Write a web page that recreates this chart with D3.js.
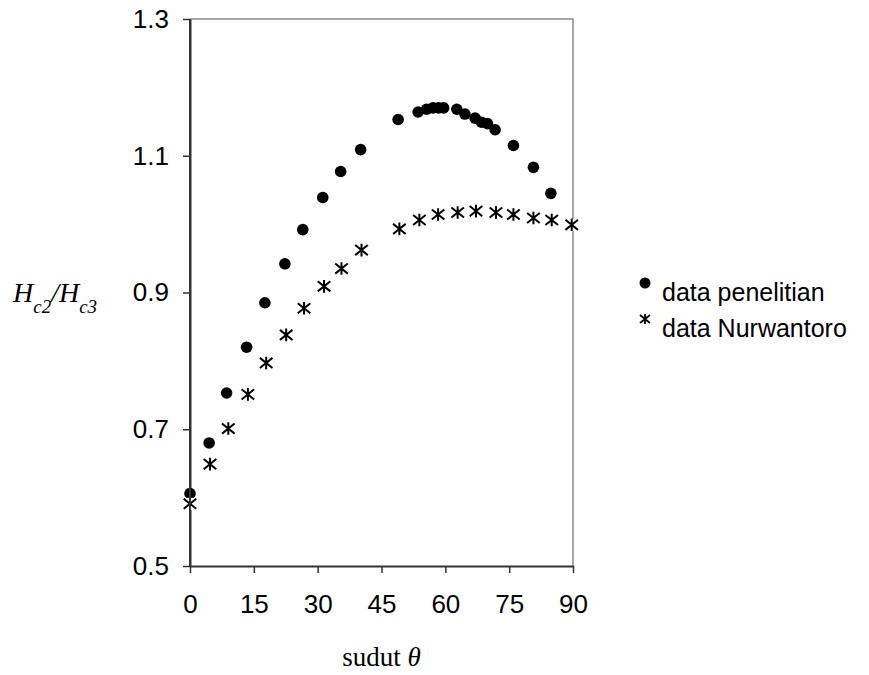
<!DOCTYPE html>
<meta charset="utf-8">
<html>
  <head>
    <title>Hc2/Hc3 vs sudut</title>
    <style>
      body { margin: 0; background: #fff; }
      .tick text { font-family: "Liberation Sans", Arial, sans-serif; }
    </style>
  </head>
  <body>
    <div id="chart"></div>
    <script src="https://d3js.org/d3.v7.min.js"></script>
    <script>

      // data
      const anglePenelitian = [0, 4.5, 8.6, 13.3, 17.6, 22.3, 26.5, 31.2, 35.4, 40.1,
                               48.9, 53.6, 55.6, 57.1, 58.4, 59.6, 62.7, 64.6, 67.0, 68.5,
                               69.9, 71.7, 76.0, 80.7, 84.8];
      const hcPenelitian = [0.606, 0.680, 0.753, 0.820, 0.885, 0.942, 0.992, 1.039, 1.077, 1.109,
                            1.153, 1.164, 1.168, 1.170, 1.170, 1.170, 1.168, 1.161, 1.155, 1.149,
                            1.147, 1.138, 1.115, 1.083, 1.045];

      const angleNurwantoro = [0, 4.7, 9.0, 13.6, 17.9, 22.6, 26.8, 31.5, 35.6, 40.3,
                               49.2, 53.9, 58.3, 62.9, 67.2, 71.9, 76.0, 80.7, 85.0, 89.7];
      const hcNurwantoro = [0.591, 0.649, 0.701, 0.751, 0.797, 0.838, 0.877, 0.909, 0.935, 0.962,
                            0.993, 1.006, 1.014, 1.017, 1.019, 1.017, 1.014, 1.009, 1.006, 0.999];

      const xTicks = [0, 15, 30, 45, 60, 75, 90];
      const yTicks = [0.5, 0.7, 0.9, 1.1, 1.3];
      const legendLabels = ["data penelitian", "data Nurwantoro"];

      const W = 869, H = 675;
      const margin = {top: 19, right: 296, bottom: 109, left: 190};
      const width = W - margin.left - margin.right,
            height = H - margin.top - margin.bottom;

      const svg = d3.select("#chart")
        .append("svg")
          .attr("width", W)
          .attr("height", H)
          .style("font-family", "'Liberation Sans', Arial, sans-serif");

      const g = svg.append("g")
          .attr("transform", `translate(${margin.left}, ${margin.top})`);

      const xScale = d3.scaleLinear().domain([0, 90]).range([0, width]);
      const yScale = d3.scaleLinear().domain([0.5, 1.3]).range([height, 0]);

      // plot area border (grey top and right)
      g.append("path")
        .attr("d", `M0,0H${width}V${height}`)
        .attr("fill", "none")
        .attr("stroke", "#8c8c8c")
        .attr("stroke-width", 1.5);

      // axes
      const yAxis = g.append("g")
        .call(d3.axisLeft(yScale).tickValues(yTicks).tickSize(7).tickSizeOuter(0)
          .tickPadding(14).tickFormat(d3.format(".1f")));
      const xAxis = g.append("g")
        .attr("transform", `translate(0, ${height})`)
        .call(d3.axisBottom(xScale).tickValues(xTicks).tickSize(7).tickSizeOuter(0)
          .tickPadding(22));

      [xAxis, yAxis].forEach(a => {
        a.select(".domain").attr("stroke", "#333").attr("stroke-width", 2);
        a.selectAll(".tick line").attr("stroke", "#333").attr("stroke-width", 1.5);
        a.selectAll(".tick text").attr("font-size", "26px").attr("fill", "#000");
      });

      // star marker path
      const star = s => `M${-s},${-s * 0.8}L${s},${s * 0.8}M${-s},${s * 0.8}L${s},${-s * 0.8}M0,${-s}L0,${s}`;

      // data penelitian
      g.selectAll(".dot")
        .data(d3.zip(anglePenelitian, hcPenelitian))
        .join("circle")
          .attr("class", "dot")
          .attr("cx", d => xScale(d[0]))
          .attr("cy", d => yScale(d[1]))
          .attr("r", 5.8)
          .attr("fill", "#000");

      // data Nurwantoro
      const stars = g.selectAll(".star")
        .data(d3.zip(angleNurwantoro, hcNurwantoro))
        .join("g")
          .attr("class", "star")
          .attr("transform", d => `translate(${xScale(d[0])}, ${yScale(d[1])})`);
      stars.append("rect")
        .attr("x", -6).attr("y", -6).attr("width", 12).attr("height", 12)
        .attr("fill", "#fff");
      stars.append("path")
        .attr("d", star(6.3))
        .attr("stroke", "#000")
        .attr("stroke-width", 2)
        .attr("fill", "none");

      // redraw left axis line over markers
      g.append("line")
        .attr("x1", 0).attr("x2", 0).attr("y1", 0).attr("y2", height)
        .attr("stroke", "#333").attr("stroke-width", 2);

      // y axis title H_c2/H_c3
      const yt = svg.append("text")
        .attr("x", 13)
        .attr("y", 302)
        .attr("font-family", "'Liberation Serif', 'Times New Roman', serif")
        .attr("font-style", "italic")
        .attr("font-size", "28px");
      yt.append("tspan").text("H");
      yt.append("tspan").attr("dy", 11).attr("font-size", "19px").text("c2");
      yt.append("tspan").attr("dy", -11).text("/H");
      yt.append("tspan").attr("dy", 11).attr("font-size", "19px").text("c3");

      // x axis title
      const xt = svg.append("text")
        .attr("x", margin.left + width / 2)
        .attr("y", 666)
        .attr("text-anchor", "middle")
        .attr("font-family", "'Liberation Serif', 'Times New Roman', serif")
        .attr("font-size", "27px");
      xt.append("tspan").text("sudut ");
      xt.append("tspan").attr("font-style", "italic").text("θ");

      // legend
      const legend = svg.append("g").attr("transform", "translate(645, 283)");
      legend.append("circle").attr("cx", 0).attr("cy", 0).attr("r", 5.5).attr("fill", "#000");
      legend.append("path").attr("transform", "translate(0, 36)").attr("d", star(5))
        .attr("stroke", "#000").attr("stroke-width", 1.8).attr("fill", "none");
      legend.selectAll(".lab")
        .data(legendLabels)
        .join("text")
          .attr("class", "lab")
          .attr("x", 17)
          .attr("y", (d, i) => 18 + i * 36)
          .attr("font-size", "25px")
          .text(d => d);

    </script>
  </body>
</html>
